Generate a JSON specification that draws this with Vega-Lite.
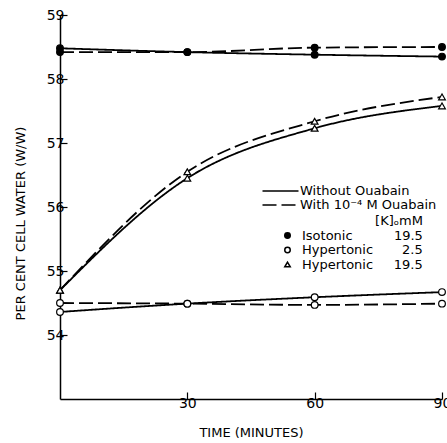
{
  "$schema": "https://vega.github.io/schema/vega-lite/v6.json",
  "width": 382,
  "height": 384,
  "autosize": {"type": "none"},
  "padding": {"left": 60, "top": 15, "right": 5, "bottom": 44},
  "background": "white",
  "config": {
    "view": {"stroke": null},
    "font": "DejaVu Sans",
    "axis": {
      "grid": false,
      "domainColor": "black",
      "domainWidth": 1.5,
      "tickColor": "black",
      "tickWidth": 1.2,
      "labelColor": "black",
      "titleColor": "black",
      "labelFont": "DejaVu Sans",
      "titleFont": "DejaVu Sans",
      "labelFlush": false,
      "labelBound": false,
      "labelOverlap": false
    },
    "legend": {
      "labelFont": "DejaVu Sans",
      "titleFont": "DejaVu Sans",
      "labelColor": "black",
      "titleColor": "black",
      "labelFontSize": 13,
      "titleFontSize": 13,
      "titleFontWeight": "normal",
      "padding": 0
    }
  },
  "data": {
    "values": [
      {"time": 0, "water": 58.48, "solution": "Isotonic", "ouabain": "Without Ouabain"},
      {"time": 30, "water": 58.42, "solution": "Isotonic", "ouabain": "Without Ouabain"},
      {"time": 60, "water": 58.38, "solution": "Isotonic", "ouabain": "Without Ouabain"},
      {"time": 90, "water": 58.35, "solution": "Isotonic", "ouabain": "Without Ouabain"},
      {"time": 0, "water": 58.42, "solution": "Isotonic", "ouabain": "With 10⁻⁴ M Ouabain"},
      {"time": 30, "water": 58.42, "solution": "Isotonic", "ouabain": "With 10⁻⁴ M Ouabain"},
      {"time": 60, "water": 58.49, "solution": "Isotonic", "ouabain": "With 10⁻⁴ M Ouabain"},
      {"time": 90, "water": 58.5, "solution": "Isotonic", "ouabain": "With 10⁻⁴ M Ouabain"},
      {"time": 0, "water": 54.36, "solution": "Hypertonic 2.5", "ouabain": "Without Ouabain"},
      {"time": 30, "water": 54.49, "solution": "Hypertonic 2.5", "ouabain": "Without Ouabain"},
      {"time": 60, "water": 54.59, "solution": "Hypertonic 2.5", "ouabain": "Without Ouabain"},
      {"time": 90, "water": 54.67, "solution": "Hypertonic 2.5", "ouabain": "Without Ouabain"},
      {"time": 0, "water": 54.5, "solution": "Hypertonic 2.5", "ouabain": "With 10⁻⁴ M Ouabain"},
      {"time": 30, "water": 54.49, "solution": "Hypertonic 2.5", "ouabain": "With 10⁻⁴ M Ouabain"},
      {"time": 60, "water": 54.47, "solution": "Hypertonic 2.5", "ouabain": "With 10⁻⁴ M Ouabain"},
      {"time": 90, "water": 54.49, "solution": "Hypertonic 2.5", "ouabain": "With 10⁻⁴ M Ouabain"},
      {"time": 0, "water": 54.7, "solution": "Hypertonic 19.5", "ouabain": "Without Ouabain"},
      {"time": 30, "water": 56.45, "solution": "Hypertonic 19.5", "ouabain": "Without Ouabain"},
      {"time": 60, "water": 57.23, "solution": "Hypertonic 19.5", "ouabain": "Without Ouabain"},
      {"time": 90, "water": 57.58, "solution": "Hypertonic 19.5", "ouabain": "Without Ouabain"},
      {"time": 0, "water": 54.7, "solution": "Hypertonic 19.5", "ouabain": "With 10⁻⁴ M Ouabain"},
      {"time": 30, "water": 56.55, "solution": "Hypertonic 19.5", "ouabain": "With 10⁻⁴ M Ouabain"},
      {"time": 60, "water": 57.34, "solution": "Hypertonic 19.5", "ouabain": "With 10⁻⁴ M Ouabain"},
      {"time": 90, "water": 57.72, "solution": "Hypertonic 19.5", "ouabain": "With 10⁻⁴ M Ouabain"}
    ]
  },
  "encoding": {
    "x": {
      "field": "time",
      "type": "quantitative",
      "scale": {"domain": [0, 90], "nice": false, "zero": false},
      "axis": {
        "values": [30, 60, 90],
        "tickSize": -7,
        "labelPadding": 4,
        "labelFontSize": 14,
        "title": "TIME (MINUTES)",
        "titleFontSize": 13,
        "titleFontWeight": "normal",
        "titlePadding": 16
      }
    },
    "y": {
      "field": "water",
      "type": "quantitative",
      "scale": {"domain": [53, 59], "nice": false, "zero": false},
      "axis": {
        "values": [54, 55, 56, 57, 58, 59],
        "tickSize": -7,
        "labelPadding": 3,
        "labelFontSize": 14,
        "title": "PER CENT CELL WATER (W/W)",
        "titleFontSize": 13,
        "titleFontWeight": "normal",
        "titleAngle": 270,
        "titleAlign": "center",
        "titleBaseline": "middle",
        "titleX": -40,
        "titleY": 208
      }
    }
  },
  "layer": [
    {
      "mark": {"type": "line", "interpolate": "monotone", "strokeWidth": 1.8, "color": "black"},
      "encoding": {
        "strokeDash": {
          "field": "ouabain",
          "type": "nominal",
          "scale": {"domain": ["Without Ouabain", "With 10⁻⁴ M Ouabain"], "range": [[1, 0], [14, 5]]},
          "legend": {
            "orient": "none",
            "legendX": 214,
            "legendY": 169.5,
            "title": null,
            "symbolType": "M-4,0H4",
            "symbolSize": 81,
            "symbolStrokeWidth": 1.6,
            "symbolStrokeColor": "black",
            "labelOffset": 13,
            "rowPadding": 0
          }
        },
        "detail": {"field": "solution", "type": "nominal"}
      }
    },
    {
      "mark": {"type": "point", "filled": true, "stroke": "black", "strokeWidth": 1.2, "size": 45, "opacity": 1},
      "encoding": {
        "shape": {
          "field": "solution",
          "type": "nominal",
          "scale": {"domain": ["Isotonic", "Hypertonic 2.5", "Hypertonic 19.5"], "range": ["circle", "circle", "triangle-up"]},
          "legend": {
            "orient": "none",
            "legendX": 221,
            "legendY": 200,
            "title": "[K]ₒmM",
            "titleAnchor": "end",
            "titleAlign": "right",
            "titlePadding": 1,
            "symbolSize": 30,
            "labelOffset": 8,
            "rowPadding": 0.5,
            "labelExpr": "datum.label == 'Isotonic' ? 'Isotonic\u00a0\u00a0\u00a0\u00a0\u00a0\u00a0\u00a0\u00a0\u00a0\u00a019.5' : datum.label == 'Hypertonic 2.5' ? 'Hypertonic\u00a0\u00a0\u00a0\u00a0\u00a0\u00a0\u00a02.5' : 'Hypertonic\u00a0\u00a0\u00a0\u00a0\u00a019.5'",
            "encode": {"symbols": {"update": {
              "fill": {"signal": "datum.value == 'Isotonic' ? 'black' : 'white'"},
              "stroke": {"value": "black"},
              "strokeWidth": {"value": 1},
              "fillOpacity": {"value": 1},
              "strokeOpacity": {"value": 1}
            }}}
          }
        },
        "fill": {
          "field": "solution",
          "type": "nominal",
          "scale": {"domain": ["Isotonic", "Hypertonic 2.5", "Hypertonic 19.5"], "range": ["black", "white", "white"]},
          "legend": null
        }
      }
    }
  ]
}
